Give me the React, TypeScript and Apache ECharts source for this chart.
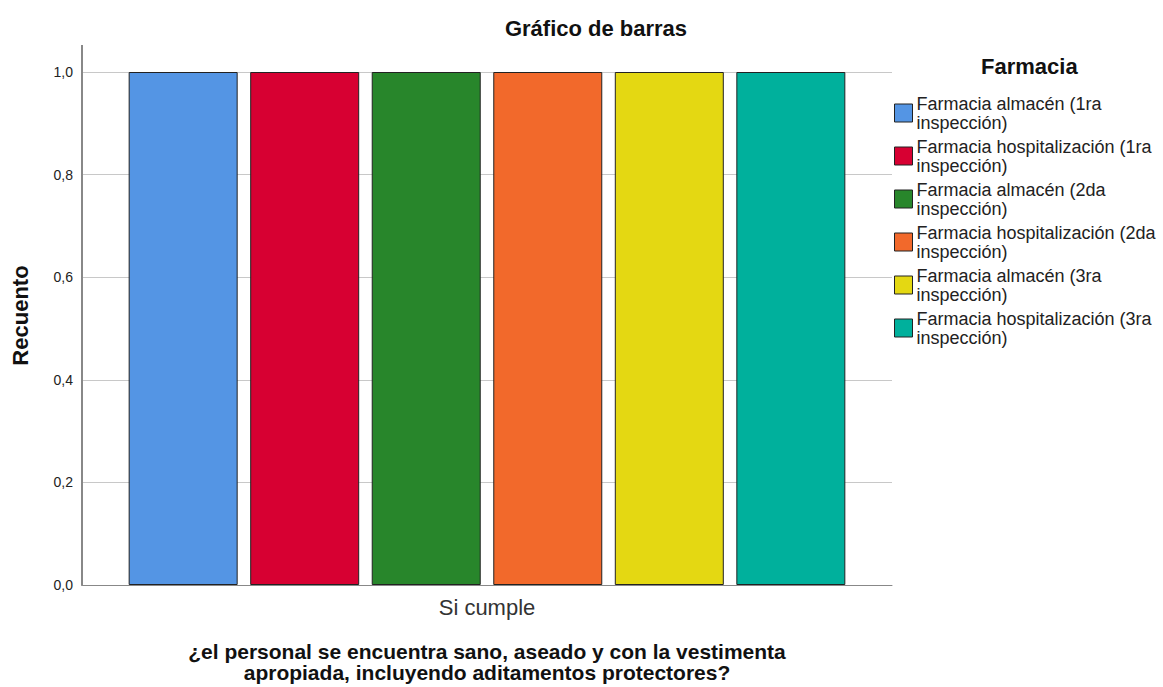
import React, { useEffect, useRef } from "react";
import * as echarts from "echarts";

const categories = ["Si cumple"];
const seriesNames = [
  "Farmacia almacén (1ra inspección)",
  "Farmacia hospitalización (1ra inspección)",
  "Farmacia almacén (2da inspección)",
  "Farmacia hospitalización (2da inspección)",
  "Farmacia almacén (3ra inspección)",
  "Farmacia hospitalización (3ra inspección)",
];
const seriesValues = [[1.0], [1.0], [1.0], [1.0], [1.0], [1.0]];
const colors = ["#5495e4", "#d70032", "#28862b", "#f2692b", "#e4d812", "#00b09c"];
const yTicks = [0, 0.2, 0.4, 0.6, 0.8, 1.0];

const FONT = "Arial, 'Liberation Sans', sans-serif";

export default function App() {
  const ref = useRef<HTMLDivElement>(null);
  useEffect(() => {
    if (!ref.current) return;
    const chart = echarts.init(ref.current, undefined, { renderer: "svg" });
    const legendFormatter = (name: string) => {
      const i = name.indexOf(" (");
      const j = name.indexOf(" ", i + 2);
      return name.slice(0, j) + "\n" + name.slice(j + 1);
    };
    chart.setOption({
      animation: false,
      backgroundColor: "#ffffff",
      textStyle: { fontFamily: FONT },
      title: {
        text: "Gráfico de barras",
        left: 591,
        textAlign: "center",
        top: 12,
        textStyle: { fontFamily: FONT, fontSize: 22, fontWeight: "bold", color: "#111" },
      },
      graphic: [
        {
          type: "text",
          left: 981,
          top: 55,
          style: { text: "Farmacia", font: `bold 22px ${FONT}`, fill: "#111" },
        },
        {
          type: "line",
          shape: { x1: 82, y1: 45, x2: 82, y2: 72 },
          style: { stroke: "#888888", lineWidth: 2 },
        },
      ],
      legend: {
        orient: "vertical",
        left: 889,
        top: 89,
        itemWidth: 18,
        itemHeight: 18,
        itemGap: 5,
        icon: "rect",
        data: seriesNames,
        formatter: legendFormatter,
        itemStyle: { borderColor: "#222", borderWidth: 1 },
        textStyle: { fontFamily: FONT, fontSize: 18, lineHeight: 19, color: "#222", padding: [0, 0, 0, -1] },
      },
      grid: { left: 82, right: 271, top: 72, bottom: 102, outerBoundsMode: "none" },
      xAxis: {
        type: "category",
        data: categories,
        axisLine: { lineStyle: { color: "#888888", width: 1 } },
        axisTick: { show: false },
        axisLabel: { fontFamily: FONT, fontSize: 22, color: "#333", margin: 11 },
        name: "¿el personal se encuentra sano, aseado y con la vestimenta\napropiada, incluyendo aditamentos protectores?",
        nameLocation: "middle",
        nameGap: 56,
        nameTextStyle: { fontFamily: FONT, fontSize: 21, fontWeight: "bold", color: "#111", lineHeight: 21 },
      },
      yAxis: {
        type: "value",
        min: 0,
        max: 1.0,
        interval: 0.2,
        axisLine: { show: true, lineStyle: { color: "#888888", width: 2 } },
        axisTick: { show: false },
        splitLine: { lineStyle: { color: "#c8c8c8", width: 1 } },
        axisLabel: {
          fontFamily: FONT,
          fontSize: 14,
          color: "#222",
          margin: 9,
          formatter: (v: number) => {
            const t = yTicks.find((x) => Math.abs(x - v) < 1e-9);
            return t === undefined ? "" : t.toFixed(1).replace(".", ",");
          },
        },
        name: "Recuento",
        nameLocation: "middle",
        nameGap: 51,
        nameTextStyle: { fontFamily: FONT, fontSize: 22, fontWeight: "bold", color: "#111", padding: [0, 0, 0, 26] },
      },
      series: seriesNames.map((name, i) => ({
        name,
        type: "bar",
        data: seriesValues[i],
        barWidth: 109,
        barGap: "11.5%",
        itemStyle: { color: colors[i], borderColor: "#222", borderWidth: 1 },
      })),
    });
    return () => chart.dispose();
  }, []);
  return <div ref={ref} style={{ width: 1163, height: 687, position: "absolute", left: 0, top: 0 }} />;
}
